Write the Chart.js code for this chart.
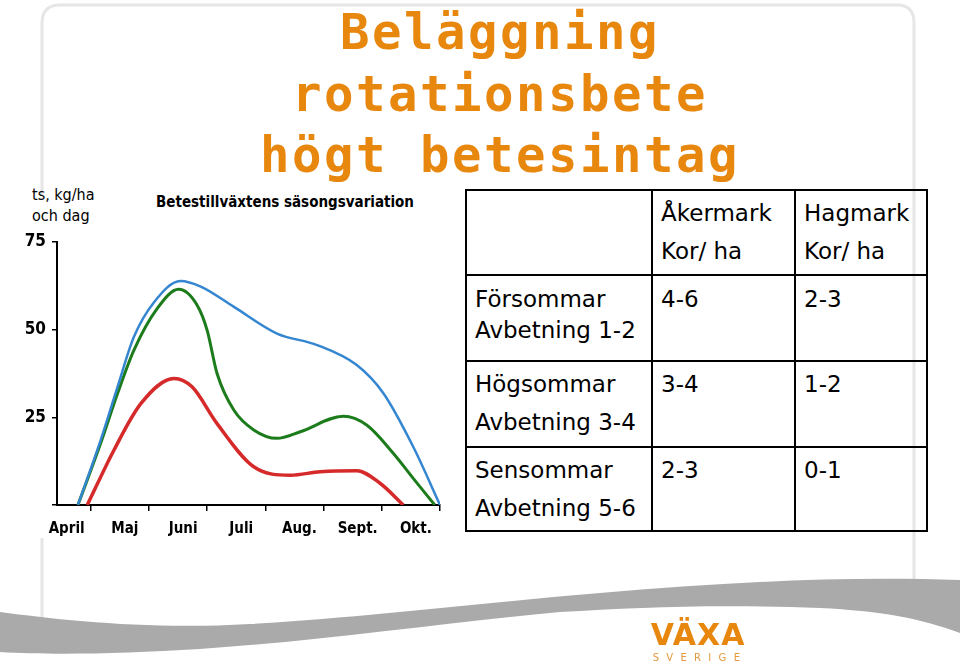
<!DOCTYPE html>
<html>
<head>
<meta charset="utf-8">
<script src="https://cdn.jsdelivr.net/npm/chart.js@4"></script>
<style>
  body { margin: 0; width: 960px; height: 668px; position: relative; overflow: hidden; background: #fff; font-family: "DejaVu Sans", sans-serif; }
  .abs { position: absolute; }
  #title { left: 0; top: 2px; width: 1000px; text-align: center; font-family: "DejaVu Sans Mono", monospace; font-weight: bold; font-size: 49px; letter-spacing: 2.5px; line-height: 61.5px; color: #e8870e; }
  #chartbg { left: 0; top: 196px; width: 460px; height: 342px; background: #fff; }
  #unit { left: 32px; top: 184px; font-family: "DejaVu Sans Condensed", sans-serif; font-size: 16px; line-height: 21px; color: #000; }
  #ctitle { left: 135px; top: 193px; width: 300px; text-align: center; font-family: "DejaVu Sans Condensed", sans-serif; font-weight: bold; font-size: 15px; color: #000; white-space: nowrap; }
  #tbl { left: 465px; top: 189px; border-collapse: collapse; table-layout: fixed; font-size: 23px; color: #000; }
  #tbl td { border: 2px solid #000; vertical-align: top; padding: 3px 0 0 8px; line-height: 38px; white-space: nowrap; }
  #tbl tr.r1 td { line-height: 31px; padding-top: 8px; }
  #logo { left: 646px; top: 618px; width: 104px; text-align: center; color: #e8870e; }
  #logo .big { font-size: 30px; font-weight: bold; letter-spacing: 1px; line-height: 34px; }
  #logo .small { font-size: 10px; letter-spacing: 7.3px; line-height: 12px; margin-left: 4px; color: #e39a3c; }
</style>
</head>
<body>
<svg class="abs" style="left:0;top:0" width="960" height="668">
  <path d="M42,645 L42,23 Q42,5 60,5 L897,5 Q914,5 914,23 L914,600" fill="none" stroke="#e6e6e6" stroke-width="3"/>
</svg>
<div id="chartbg" class="abs"></div>
<div id="title" class="abs" style="left:0;width:1000px">Beläggning<br>rotationsbete<br>högt betesintag</div>
<div id="unit" class="abs">ts, kg/ha<br>och dag</div>
<div id="ctitle" class="abs">Betestillväxtens säsongsvariation</div>
<canvas id="mycanvas" class="abs" style="left:0;top:180px" width="460" height="380"></canvas>
<table id="tbl" class="abs">
  <colgroup><col style="width:186px"><col style="width:143px"><col style="width:132px"></colgroup>
  <tr style="height:85px"><td></td><td>Åkermark<br>Kor/ ha</td><td>Hagmark<br>Kor/ ha</td></tr>
  <tr class="r1" style="height:86px"><td>Försommar<br>Avbetning 1-2</td><td>4-6</td><td>2-3</td></tr>
  <tr style="height:86px"><td>Högsommar<br>Avbetning 3-4</td><td>3-4</td><td>1-2</td></tr>
  <tr style="height:84px"><td>Sensommar<br>Avbetning 5-6</td><td>2-3</td><td>0-1</td></tr>
</table>
<svg class="abs" style="left:0;top:0" width="960" height="668">
  <path d="M0,612 C60,620 150,630 250,624 C380,616 480,603 600,593 C720,583 830,576 960,580 L960,633 C920,618 880,611 820,608 C720,604 640,607 560,612 C450,622 330,640 200,649 C120,654 50,655 0,652 Z" fill="#aaaaaa"/>
</svg>
<div id="logo" class="abs"><div class="big">VÄXA</div><div class="small">SVERIGE</div></div>

<script>
// months on the x axis, one unit per month (tick marks at month borders)
var months = ['April', 'Maj', 'Juni', 'Juli', 'Aug.', 'Sept.', 'Okt.'];
var monthBorders = [1, 2, 3, 4, 5, 6, 7];
var yTicks = [0, 25, 50, 75];

// curves: x in months, y in kg ts/ha och dag
var blueX = [0.78, 1.17, 1.46, 1.74, 2.09, 2.54, 2.89, 3.46, 4.2, 4.89, 5.57, 6.03, 6.54, 7.0];
var blueY = [0, 18.5, 33.7, 47.9, 57.9, 63.9, 62.3, 56.5, 48.9, 45.6, 39.9, 31.8, 16.6, 0];

var greenX = [0.78, 1.17, 1.46, 1.74, 2.14, 2.51, 2.83, 3.0, 3.17, 3.46, 3.8, 4.2, 4.6, 5.34, 5.74, 6.2, 6.54, 6.91];
var greenY = [0, 17.6, 31.8, 44.1, 56, 61.5, 56.9, 49.8, 37.5, 27, 21.4, 19, 20.9, 25.3, 22.8, 14.7, 7.6, 0];

var redX = [0.94, 1.4, 1.86, 2.43, 2.74, 3.17, 3.8, 4.43, 4.94, 5.57, 5.97, 6.37];
var redY = [0, 15.7, 28.9, 36.1, 33.7, 23.2, 10.9, 8.5, 9.5, 9.8, 6.2, 0];

function pts(xs, ys) {
	var out = [];
	for (var i in xs) {
		out.push({x: xs[i], y: ys[i]});
	}
	return out;
}

var chartdata = {
	datasets: [
		{ label: 'blå', data: pts(blueX, blueY), borderColor: '#3586d0', borderWidth: 2.5 },
		{ label: 'grön', data: pts(greenX, greenY), borderColor: '#1c7c1c', borderWidth: 3 },
		{ label: 'röd', data: pts(redX, redY), borderColor: '#d62a2a', borderWidth: 3.5 }
	]
};

var ctx = document.getElementById('mycanvas');

var lineGraph = new Chart(ctx, {
	type: 'line',
	data: chartdata,
	options: {
		responsive: false,
		animation: false,
		layout: { padding: { top: 62, right: 20, left: 0, bottom: 20 } },
		elements: {
			point: { radius: 0 },
			line: { cubicInterpolationMode: 'monotone', fill: false }
		},
		plugins: { legend: { display: false }, tooltip: { enabled: false } },
		scales: {
			x: {
				type: 'linear', position: 'bottom', min: 0.42, max: 7,
				afterBuildTicks: function(s) { s.ticks = monthBorders.map(function(v) { return {value: v}; }); },
				ticks: { display: false },
				grid: { drawOnChartArea: false, tickLength: 6, color: '#000', lineWidth: 1.5 },
				border: { color: '#000', width: 2 },
				afterFit: function(s) { s.height = 6; }
			},
			x2: {
				type: 'linear', position: 'bottom', min: 0.42, max: 7,
				afterBuildTicks: function(s) { s.ticks = months.map(function(m, i) { return {value: i + 0.5}; }); },
				ticks: {
					autoSkip: false, maxRotation: 0, padding: 1, labelOffset: 5, color: '#000',
					font: {family: 'DejaVu Sans Condensed', size: 15, weight: 'bold'},
					callback: function(v, i) { return months[i]; }
				},
				grid: { display: false },
				border: { display: false },
				afterFit: function(s) { s.height = 29; }
			},
			y: {
				min: 0, max: 75,
				afterBuildTicks: function(s) { s.ticks = yTicks.map(function(v) { return {value: v}; }); },
				ticks: {
					padding: 6, color: '#000', font: {family: 'DejaVu Sans Condensed', size: 17, weight: 'bold'},
					callback: function(v) { return v === 0 ? '' : v; }
				},
				grid: { drawOnChartArea: false, tickLength: 5, color: '#000', lineWidth: 1.5 },
				border: { color: '#000', width: 2 },
				afterFit: function(s) { s.width = 57; }
			}
		}
	}
});
</script>
</body>
</html>
